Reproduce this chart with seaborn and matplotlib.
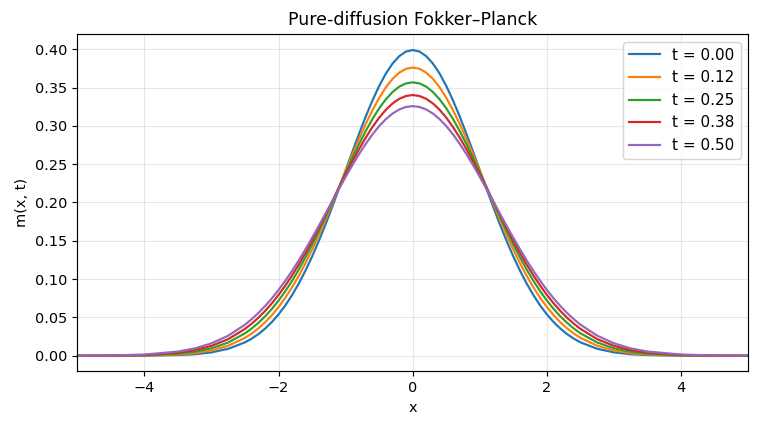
import pandas as pd
import seaborn as sns
import matplotlib.pyplot as plt

# x positions, one side only (the curves are symmetric about x = 0)
x_half = [0.0, 0.1, 0.2, 0.3, 0.4, 0.5, 0.6, 0.7, 0.8, 0.9, 1.0,
          1.1, 1.2, 1.3, 1.4, 1.5, 1.6, 1.7, 1.8, 1.9, 2.0,
          2.1, 2.2, 2.3, 2.4, 2.5, 2.75, 3.0, 3.25, 3.5, 4.0, 4.5, 5.0]

times = [0.0, 0.125, 0.25, 0.375, 0.5]

# m(x, t) at x_half
m_t000 = [0.3989, 0.3970, 0.3910, 0.3814, 0.3683, 0.3521, 0.3332, 0.3123, 0.2897, 0.2661, 0.2420,
          0.2179, 0.1942, 0.1714, 0.1497, 0.1295, 0.1109, 0.0940, 0.0790, 0.0656, 0.0540,
          0.0440, 0.0355, 0.0283, 0.0224, 0.0175, 0.0091, 0.0044, 0.0020, 0.0009, 0.0001, 0.0000, 0.0000]
m_t012 = [0.3761, 0.3745, 0.3695, 0.3614, 0.3503, 0.3366, 0.3205, 0.3025, 0.2830, 0.2624, 0.2412,
          0.2197, 0.1983, 0.1775, 0.1574, 0.1384, 0.1206, 0.1041, 0.0891, 0.0756, 0.0636,
          0.0530, 0.0438, 0.0358, 0.0291, 0.0234, 0.0131, 0.0069, 0.0034, 0.0016, 0.0003, 0.0000, 0.0000]
m_t025 = [0.3568, 0.3554, 0.3512, 0.3442, 0.3347, 0.3229, 0.3090, 0.2933, 0.2762, 0.2581, 0.2392,
          0.2199, 0.2006, 0.1815, 0.1629, 0.1451, 0.1282, 0.1123, 0.0976, 0.0842, 0.0720,
          0.0611, 0.0515, 0.0430, 0.0356, 0.0293, 0.0173, 0.0097, 0.0052, 0.0027, 0.0006, 0.0001, 0.0000]
m_t038 = [0.3402, 0.3390, 0.3353, 0.3293, 0.3210, 0.3107, 0.2985, 0.2847, 0.2696, 0.2534, 0.2365,
          0.2191, 0.2015, 0.1840, 0.1668, 0.1501, 0.1341, 0.1189, 0.1047, 0.0915, 0.0794,
          0.0684, 0.0585, 0.0497, 0.0419, 0.0351, 0.0217, 0.0129, 0.0073, 0.0040, 0.0010, 0.0002, 0.0000]
m_t050 = [0.3257, 0.3247, 0.3214, 0.3161, 0.3088, 0.2997, 0.2889, 0.2766, 0.2632, 0.2487, 0.2334,
          0.2176, 0.2016, 0.1854, 0.1695, 0.1539, 0.1388, 0.1243, 0.1106, 0.0978, 0.0859,
          0.0749, 0.0649, 0.0559, 0.0478, 0.0406, 0.0262, 0.0162, 0.0096, 0.0055, 0.0016, 0.0004, 0.0001]

curves = [m_t000, m_t012, m_t025, m_t038, m_t050]

x_full = [-v for v in x_half[:0:-1]] + x_half

DPI = 104.5
fig, ax = plt.subplots(figsize=(758 / DPI, 429 / DPI), dpi=DPI)
palette = sns.color_palette("tab10")

for i, (t, m) in enumerate(zip(times, curves)):
    y_full = m[:0:-1] + m
    df = pd.DataFrame({"x": x_full, "m": y_full})
    sns.lineplot(data=df, x="x", y="m", ax=ax, color=palette[i],
                 label=f"t = {t:.2f}", linewidth=1.5)

ax.set_xlim(-5, 5)
ax.set_ylim(-0.02, 0.42)
ax.set_yticks([0.0, 0.05, 0.10, 0.15, 0.20, 0.25, 0.30, 0.35, 0.40])
ax.set_title("Pure-diffusion Fokker\u2013Planck")
ax.set_xlabel("x")
ax.set_ylabel("m(x, t)")
ax.grid(True, alpha=0.3)
ax.legend(loc="upper right", fontsize=10.5)

fig.subplots_adjust(left=0.102, right=0.987, top=0.921, bottom=0.135)
plt.savefig("out.png", dpi=DPI)
